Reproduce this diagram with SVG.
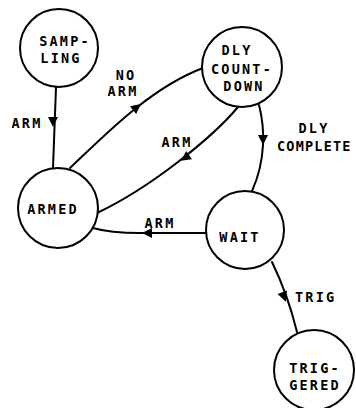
<svg xmlns="http://www.w3.org/2000/svg" width="356" height="408" viewBox="0 0 356 408">
<style>
.n{fill:#fff;stroke:#000;stroke-width:2}
.e{fill:none;stroke:#000;stroke-width:2;stroke-linecap:round}
text{font-family:"DejaVu Sans Mono","Liberation Mono",monospace;font-weight:bold;font-size:13.5px;letter-spacing:2.2px;fill:#000}
.c{text-anchor:middle}
</style>
<defs>
<path id="ah" d="M5,0 L-5,-5 L-5,5 Z" fill="#000"/>
</defs>
<rect width="356" height="408" fill="#fff"/>
<g id="edges">
<path class="e" d="M56,87 L53,168"/>
<use href="#ah" transform="translate(53,122) rotate(90)"/>
<path class="e" d="M70,168 C105,135 150,88 203,68"/>
<use href="#ah" transform="translate(137,107) rotate(-38)"/>
<path class="e" d="M238,107 C212,138 150,188 97,213"/>
<use href="#ah" transform="translate(185,158) rotate(145)"/>
<path class="e" d="M259,105 C265,128 266,160 252,191"/>
<use href="#ah" transform="translate(263,140) rotate(90)"/>
<path class="e" d="M205,233 L140,233 Q110,233 93,228"/>
<use href="#ah" transform="translate(147,233) rotate(180)"/>
<path class="e" d="M272,262 Q288,295 297,332"/>
<use href="#ah" transform="translate(284,297) rotate(70)"/>
</g>
<g id="labels">
<text x="27" y="128" class="c">ARM</text>
<text x="126" y="80" class="c">NO</text>
<text x="123" y="96" class="c">ARM</text>
<text x="177" y="147" class="c">ARM</text>
<text x="314" y="133" class="c">DLY</text>
<text x="277" y="151" style="letter-spacing:1.2px">COMPLETE</text>
<text x="160" y="228" class="c">ARM</text>
<text x="295" y="302">TRIG</text>
</g>
<g id="sampling">
<circle class="n" cx="59" cy="48" r="39"/>
<text x="65" y="46" class="c">SAMP-</text>
<text x="61" y="63" class="c">LING</text>
</g>
<g id="dly-countdown">
<circle class="n" cx="242" cy="67" r="40"/>
<text x="237" y="55" class="c">DLY</text>
<text x="242" y="74" class="c">COUNT-</text>
<text x="244" y="91" class="c">DOWN</text>
</g>
<g id="armed">
<circle class="n" cx="58" cy="208" r="40"/>
<text x="53" y="214" class="c">ARMED</text>
</g>
<g id="wait">
<circle class="n" cx="245" cy="230" r="39"/>
<text x="240" y="242" class="c">WAIT</text>
</g>
<g id="triggered">
<circle class="n" cx="314" cy="370" r="40"/>
<text x="315" y="373" class="c">TRIG-</text>
<text x="315" y="390" class="c">GERED</text>
</g>
</svg>
